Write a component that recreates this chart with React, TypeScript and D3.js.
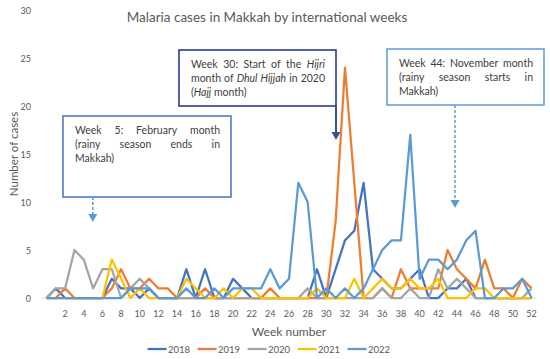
import * as d3 from 'd3';
import { useMemo } from 'react';

const WIDTH = 550;
const HEIGHT = 359;
const PLOT = { left: 41.8, right: 536.2, top: 10, bottom: 298 };
const FONT = 'Lato, "Open Sans", sans-serif';
const TEXT_COLOR = '#595959';

// weeks 0..52, the first category has no label
const WEEKS = d3.range(0, 53);
const WEEK_TICKS = d3.range(2, 53, 2);
const Y_TICKS = [0, 5, 10, 15, 20, 25, 30];

const CASES_2018 = [0, 1, 0, 0, 0, 0, 0, 2, 1, 1, 0, 1, 0, 0, 0, 3, 0, 3, 0, 0, 2, 1, 0, 0, 0, 0, 0, 0, 0, 3, 0, 3, 6, 7, 12, 3, 2, 1, 1, 2, 3, 0, 0, 1, 1, 2, 0, 0, 0, 0, 0, 0, 0];
const CASES_2019 = [0, 0, 1, 0, 0, 0, 0, 1, 3, 1, 1, 2, 1, 1, 0, 0, 0, 1, 0, 0, 0, 0, 0, 0, 1, 0, 0, 0, 0, 0, 0, 8, 24, 12, 0, 0, 1, 0, 3, 1, 1, 1, 1, 5, 3, 2, 1, 4, 1, 1, 0, 2, 1];
const CASES_2020 = [0, 1, 1, 5, 4, 1, 3, 3, 0, 1, 2, 1, 0, 0, 0, 0, 0, 0, 0, 0, 0, 0, 0, 0, 0, 0, 0, 0, 1, 0, 0, 0, 0, 0, 0, 0, 1, 0, 0, 1, 0, 0, 3, 1, 2, 1, 0, 0, 0, 0, 0, 0, 1];
const CASES_2021 = [0, 0, 0, 0, 0, 0, 0, 4, 2, 0, 1, 0, 0, 0, 0, 2, 1, 0, 0, 1, 0, 1, 1, 0, 0, 0, 0, 0, 0, 1, 0, 0, 0, 2, 0, 1, 2, 1, 1, 2, 1, 1, 2, 0, 0, 0, 1, 1, 0, 0, 0, 0, 0];
const CASES_2022 = [0, 0, 0, 0, 0, 0, 0, 0, 0, 1, 1, 1, 0, 0, 0, 1, 0, 0, 1, 0, 1, 1, 1, 1, 3, 1, 2, 12, 10, 0, 1, 0, 1, 0, 1, 3, 5, 6, 6, 17, 2, 4, 4, 3, 4, 6, 7, 0, 0, 1, 1, 2, 0];

const SERIES = [
  { name: '2018', color: '#4472c4', values: CASES_2018 },
  { name: '2019', color: '#ed7d31', values: CASES_2019 },
  { name: '2020', color: '#a5a5a5', values: CASES_2020 },
  { name: '2021', color: '#ffc000', values: CASES_2021 },
  { name: '2022', color: '#5b9bd5', values: CASES_2022 },
];

type Run = { t: string; i?: boolean };
type Note = {
  x: number;
  y: number;
  w: number;
  h: number;
  border: string;
  lines: { runs: Run[]; justify: boolean }[];
  arrow: { x: number; y1: number; y2: number; color: string; dashed: boolean };
};

// runs joined with "+" have no space between them
const NOTES: Note[] = [
  {
    x: 63, y: 116, w: 168, h: 81, border: '#4472c4',
    lines: [
      { runs: [{ t: 'Week 5: February month' }], justify: true },
      { runs: [{ t: '(rainy season ends in' }], justify: true },
      { runs: [{ t: 'Makkah)' }], justify: false },
    ],
    arrow: { x: 92.8, y1: 197, y2: 222, color: '#5b9bd5', dashed: true },
  },
  {
    x: 179, y: 50, w: 157, h: 56, border: '#1f2d8f',
    lines: [
      { runs: [{ t: 'Week 30: Start of the' }, { t: 'Hijri', i: true }], justify: true },
      { runs: [{ t: 'month of' }, { t: 'Dhul Hijjah', i: true }, { t: 'in 2020' }], justify: true },
      { runs: [{ t: '(' }, { t: '+Hajj', i: true }, { t: 'month)' }], justify: false },
    ],
    arrow: { x: 336, y1: 106, y2: 140, color: '#2f5597', dashed: false },
  },
  {
    x: 387, y: 49, w: 157, h: 56, border: '#5b9bd5',
    lines: [
      { runs: [{ t: 'Week 44: November month' }], justify: true },
      { runs: [{ t: '(rainy season starts in' }], justify: true },
      { runs: [{ t: 'Makkah)' }], justify: false },
    ],
    arrow: { x: 455, y1: 105, y2: 208, color: '#5b9bd5', dashed: true },
  },
];

const NOTE_SIZE = 10.5;
let measureCtx: CanvasRenderingContext2D | null = null;
function textWidth(text: string, italic: boolean) {
  if (!measureCtx) measureCtx = document.createElement('canvas').getContext('2d');
  if (!measureCtx) return text.length * 5.3;
  measureCtx.font = `${italic ? 'italic ' : ''}${NOTE_SIZE}px Lato`;
  return measureCtx.measureText(text).width;
}

function NoteBox({ note }: { note: Note }) {
  const padL = 12;
  const padR = 11;
  const lineW = note.w - padL - padR;
  const a = note.arrow;
  return (
    <g>
      <rect x={note.x} y={note.y} width={note.w} height={note.h} fill="#fff" stroke={note.border} strokeWidth={1.5} />
      {note.lines.map((line, li) => {
        const y = note.y + 14 + li * 14;
        // words grouped so that glued runs stay together
        const groups: { t: string; i: boolean }[][] = [];
        line.runs.forEach((r) => {
          const glued = r.t.startsWith('+');
          const words = (glued ? r.t.slice(1) : r.t).split(' ').filter(Boolean);
          words.forEach((w, wi) => {
            if (wi === 0 && glued && groups.length) groups[groups.length - 1].push({ t: w, i: !!r.i });
            else groups.push([{ t: w, i: !!r.i }]);
          });
        });
        const widths = groups.map((g) => d3.sum(g, (p) => textWidth(p.t, p.i)));
        const space = textWidth(' ', false);
        const gap = line.justify && groups.length > 1 ? (lineW - d3.sum(widths)) / (groups.length - 1) : space;
        let cx = note.x + padL;
        return (
          <g key={li}>
            {groups.map((g, gi) => {
              let px = cx;
              cx += widths[gi] + gap;
              return g.map((p, pi) => {
                const tx = px;
                px += textWidth(p.t, p.i);
                return (
                  <text key={`${gi}-${pi}`} x={tx} y={y} fontSize={NOTE_SIZE} fontFamily={FONT} fill="#404040" fontStyle={p.i ? 'italic' : 'normal'} dominantBaseline="central">
                    {p.t}
                  </text>
                );
              });
            })}
          </g>
        );
      })}
      <line x1={a.x} x2={a.x} y1={a.y1} y2={a.y2 - 7} stroke={a.color} strokeWidth={a.dashed ? 1.5 : 2} strokeDasharray={a.dashed ? '3 2' : undefined} />
      <path d={`M${a.x - 4.5},${a.y2 - 8}L${a.x + 4.5},${a.y2 - 8}L${a.x},${a.y2}Z`} fill={a.color} />
    </g>
  );
}

export default function App() {
  const x = useMemo(
    () => d3.scalePoint<number>().domain(WEEKS).range([PLOT.left, PLOT.right]).padding(0.5),
    [],
  );
  const y = useMemo(() => d3.scaleLinear().domain([0, 30]).range([PLOT.bottom, PLOT.top]), []);
  const line = d3
    .line<number>()
    .x((_, i) => x(WEEKS[i]) ?? 0)
    .y((d) => y(d));

  const legendStart = 147.6;
  const legendStep = 50;

  return (
    <svg
      width={WIDTH}
      height={HEIGHT}
      viewBox={`0 0 ${WIDTH} ${HEIGHT}`}
      style={{ position: 'absolute', left: 0, top: 0, background: '#fff' }}
      fontFamily={FONT}
    >
      <text x={267} y={17} textAnchor="middle" dominantBaseline="central" fontSize={13.5} fill={TEXT_COLOR}>
        Malaria cases in Makkah by international weeks
      </text>

      {Y_TICKS.map((t) => (
        <text key={t} x={31} y={y(t)} textAnchor="end" dominantBaseline="central" fontSize={9} fill={TEXT_COLOR}>
          {t}
        </text>
      ))}
      <text
        transform={`translate(13 ${(PLOT.top + PLOT.bottom) / 2}) rotate(-90)`}
        textAnchor="middle"
        dominantBaseline="central"
        fontSize={11.5}
        fill={TEXT_COLOR}
      >
        Number of cases
      </text>

      <line x1={PLOT.left} x2={PLOT.right} y1={PLOT.bottom} y2={PLOT.bottom} stroke="#d9d9d9" strokeWidth={1} />
      {WEEK_TICKS.map((w) => (
        <text key={w} x={x(w)} y={313} textAnchor="middle" dominantBaseline="central" fontSize={9} fill={TEXT_COLOR}>
          {w}
        </text>
      ))}
      <text x={(PLOT.left + PLOT.right) / 2} y={331} textAnchor="middle" dominantBaseline="central" fontSize={12} fill={TEXT_COLOR}>
        Week number
      </text>

      {SERIES.map((s) => (
        <path key={s.name} d={line(s.values) ?? ''} fill="none" stroke={s.color} strokeWidth={2.25} strokeLinejoin="round" />
      ))}

      {NOTES.map((n, i) => (
        <NoteBox key={i} note={n} />
      ))}

      {SERIES.map((s, i) => {
        const lx = legendStart + i * legendStep;
        return (
          <g key={s.name}>
            <line x1={lx} x2={lx + 19} y1={349} y2={349} stroke={s.color} strokeWidth={2.25} />
            <text x={lx + 20.5} y={349} dominantBaseline="central" fontSize={9.5} fill={TEXT_COLOR}>
              {s.name}
            </text>
          </g>
        );
      })}
    </svg>
  );
}
